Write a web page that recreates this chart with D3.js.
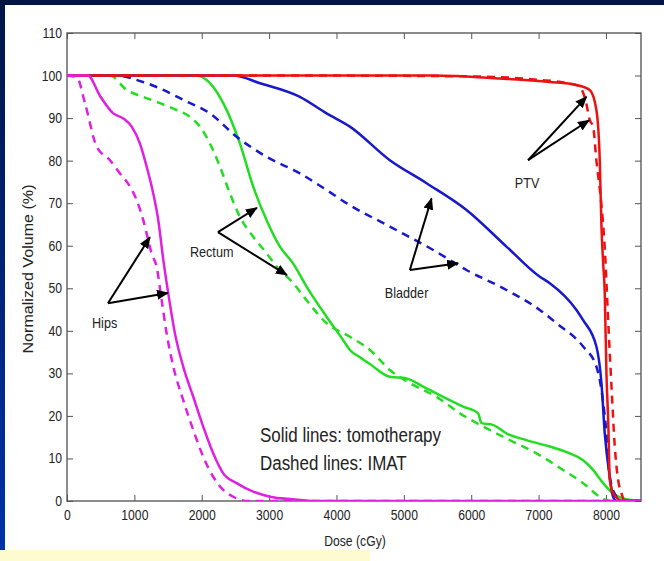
<html>
<head>
<script src="https://d3js.org/d3.v7.min.js"></script>
<style>
  body { margin: 0; background: #001540; }
  text { font-family: "Liberation Sans", Arial, sans-serif; fill: #222; }
</style>
</head>
<body>
<script>
// dose (cGy) and normalized volume (%)
var hipsSolidDose = [0, 310, 490, 687, 835, 960, 1083, 1182, 1280, 1355, 1430, 1503, 1602, 1725, 1874, 2022, 2170, 2319, 2518, 2764, 3012, 3350, 3700, 8520]
var hipsSolidVol  = [100, 100, 95.2, 91.1, 89.9, 88, 84, 78.6, 72.3, 66, 56.6, 48.8, 39.4, 31.6, 24.5, 17.5, 11.2, 6.5, 4.2, 2.2, 1.0, 0.4, 0, 0]
var hipsDashDose  = [0, 150, 267, 440, 638, 786, 935, 1034, 1132, 1206, 1256, 1331, 1405, 1479, 1578, 1725, 1874, 2022, 2170, 2319, 2467, 2700, 8520]
var hipsDashVol   = [100, 99.5, 93.5, 83.3, 80.1, 77, 73.9, 70.7, 66, 61.3, 58.2, 55, 47.2, 39.4, 31.6, 23.7, 16.7, 10.4, 5.7, 2.6, 1.0, 0, 0]

var rectumSolidDose = [0, 1924, 2122, 2319, 2567, 2764, 2963, 3160, 3358, 3556, 3853, 4100, 4199, 4347, 4496, 4792, 5040, 5286, 5583, 5880, 6103, 6152, 6320, 6523, 6820, 7166, 7463, 7661, 7809, 7958, 8105, 8254, 8520]
var rectumSolidVol  = [100, 100, 98.2, 93.5, 84, 73.9, 66, 59.8, 55.8, 50.4, 43.3, 37.8, 35.5, 33.8, 32.2, 29.2, 28.8, 26.9, 24.5, 22.2, 20.6, 18.3, 17.9, 15.9, 14.3, 12.8, 11.2, 9.6, 7.3, 4.2, 1.8, 0.6, 0]
var rectumDashDose  = [0, 638, 886, 1132, 1380, 1627, 1825, 1973, 2122, 2270, 2418, 2567, 2764, 2963, 3111, 3358, 3556, 3853, 4199, 4496, 4792, 5089, 5484, 5831, 6177, 6573, 6969, 7364, 7661, 7908, 8050, 8520]
var rectumDashVol   = [100, 100, 96.6, 95, 93.5, 91.9, 90.3, 88, 84, 78.6, 72.3, 66.8, 62.1, 58.2, 55.1, 51.2, 47.2, 41.8, 38.6, 35.5, 30.8, 27.7, 24.5, 20.6, 17.5, 14.3, 11.2, 7.3, 4.2, 1.0, 0, 0]

var bladderSolidDose = [0, 2470, 2864, 3457, 3853, 4199, 4792, 5337, 5930, 6523, 7018, 7166, 7562, 7661, 7858, 7933, 7982, 8056, 8105, 8160, 8520]
var bladderSolidVol  = [100, 100, 98.2, 95, 91.1, 88, 80.1, 74.7, 68.4, 59.8, 52.7, 51.2, 44.9, 42.5, 36.3, 27.7, 15.9, 5.7, 1.0, 0, 0]
var bladderDashDose  = [0, 700, 1182, 1776, 2122, 2518, 2963, 3457, 3853, 4149, 4792, 5436, 5930, 6523, 7018, 7265, 7661, 7858, 7933, 8007, 8056, 8155, 8220, 8520]
var bladderDashVol   = [100, 100, 98.2, 93.9, 91.1, 85.6, 80.9, 77, 73.1, 70, 64.5, 59, 54.3, 49.6, 44.9, 41.8, 36.3, 31.6, 26.1, 15.9, 5.7, 1.0, 0, 0]

var ptvSolidDose = [0, 3500, 5436, 6424, 7166, 7562, 7760, 7858, 7908, 7933, 7958, 7982, 8007, 8035, 8056, 8100, 8180, 8230, 8520]
var ptvSolidVol  = [100, 100, 100, 99.3, 98.5, 97.8, 96.6, 91.9, 80.1, 64.5, 56, 48.8, 30, 18, 5, 2, 0.5, 0, 0]
var ptvDashDose  = [0, 3500, 6000, 7000, 7400, 7600, 7700, 7760, 7809, 7858, 7930, 7980, 8040, 8085, 8130, 8180, 8230, 8280, 8520]
var ptvDashVol   = [100, 100, 99.8, 99, 98.3, 97.5, 94, 89.5, 88, 80, 70, 60, 40, 26, 13, 5, 1.8, 0, 0]

var xTicks = [0, 1000, 2000, 3000, 4000, 5000, 6000, 7000, 8000]
var yTicks = [0, 10, 20, 30, 40, 50, 60, 70, 80, 90, 100, 110]

// annotation: label [dose, vol], arrow origin, two tips
var notes = [
  {label: "Hips",    at: [371, 40.7],  from: [608, 46.5],  to: [[1231, 62], [1499, 48.9]]},
  {label: "Rectum",  at: [1825, 57.3], from: [2240, 63.2], to: [[2819, 68.9], [3264, 53.1]]},
  {label: "Bladder", at: [4718, 47.7], from: [5089, 54.3], to: [[5411, 71.1], [5806, 55.9]]},
  {label: "PTV",     at: [6647, 73.6], from: [6844, 80.1], to: [[7711, 95], [7749, 89.5]]}
]

var W = 664, H = 561
var pLeft = 67, pTop = 33, pRight = 641, pBottom = 501
var squeeze = 0.87  // slide image was stretched vertically

var svg = d3.select("body").append("svg")
	.attr("width", W)
	.attr("height", H)
	.style("display", "block")

var defs = svg.append("defs")
var grad = defs.append("linearGradient").attr("id", "side").attr("x1", 0).attr("y1", 0).attr("x2", 0).attr("y2", 1)
grad.append("stop").attr("offset", "0%").attr("stop-color", "#001548")
grad.append("stop").attr("offset", "100%").attr("stop-color", "#0032a8")

defs.append("marker").attr("id", "head")
	.attr("viewBox", "0 0 12 10").attr("refX", 11).attr("refY", 5)
	.attr("markerWidth", 12).attr("markerHeight", 10)
	.attr("markerUnits", "userSpaceOnUse").attr("orient", "auto")
	.append("path").attr("d", "M0,0 L12,5 L0,10 Z").attr("fill", "#000")

defs.append("clipPath").attr("id", "plot")
	.append("rect").attr("x", pLeft).attr("y", pTop - 2).attr("width", pRight - pLeft + 2).attr("height", pBottom - pTop + 2)

svg.append("rect").attr("width", W).attr("height", H).attr("fill", "#001540")
svg.append("rect").attr("x", 0).attr("y", 5).attr("width", 5).attr("height", 545).attr("fill", "url(#side)")
svg.append("rect").attr("x", 5).attr("y", 5).attr("width", W - 5).attr("height", H - 5).attr("fill", "#fff")
svg.append("rect").attr("x", 0).attr("y", 550).attr("width", 370).attr("height", 11).attr("fill", "#fffbd0")

var x = d3.scaleLinear().domain([0, 8520]).range([pLeft, pRight])
var y = d3.scaleLinear().domain([0, 110]).range([pBottom, pTop])

function shrink(sel, k) {
	sel.each(function() {
		var len = this.getComputedTextLength()
		d3.select(this).attr("textLength", len * k).attr("lengthAdjust", "spacingAndGlyphs")
	})
}

// box and ticks
svg.append("rect").attr("x", pLeft).attr("y", pTop).attr("width", pRight - pLeft).attr("height", pBottom - pTop)
	.attr("fill", "none").attr("stroke", "#666").attr("stroke-width", 1.5)

var gx = svg.append("g").attr("transform", "translate(0," + pBottom + ")")
	.call(d3.axisBottom(x).tickValues(xTicks).tickSize(-6).tickPadding(9).tickFormat(d3.format("d")))
var gxt = svg.append("g").attr("transform", "translate(0," + pTop + ")")
	.call(d3.axisTop(x).tickValues(xTicks).tickSize(-6).tickFormat(""))
var gy = svg.append("g").attr("transform", "translate(" + pLeft + ",0)")
	.call(d3.axisLeft(y).tickValues(yTicks).tickSize(-6).tickPadding(5))
var gyr = svg.append("g").attr("transform", "translate(" + pRight + ",0)")
	.call(d3.axisRight(y).tickValues(yTicks).tickSize(-6).tickFormat(""))

svg.selectAll(".domain").remove()
svg.selectAll(".tick line").attr("stroke", "#555")
svg.selectAll(".tick text").style("font-size", "14px").attr("fill", "#222")
shrink(gx.selectAll(".tick text"), squeeze)
shrink(gy.selectAll(".tick text"), squeeze)

var xl = svg.append("text").attr("x", 355).attr("y", 546).attr("text-anchor", "middle")
	.style("font-size", "14px").text("Dose (cGy)")
shrink(xl, squeeze)

var yl = svg.append("text").attr("transform", "translate(33,269) rotate(-90)").attr("text-anchor", "middle")
	.style("font-size", "14px").text("Normalized Volume (%)")
shrink(yl, 1 / squeeze)

// curves
var series = [
	{dose: rectumSolidDose, vol: rectumSolidVol, color: "#22dd22", dash: null},
	{dose: rectumDashDose, vol: rectumDashVol, color: "#22dd22", dash: "8,6"},
	{dose: bladderSolidDose, vol: bladderSolidVol, color: "#1818cc", dash: null},
	{dose: bladderDashDose, vol: bladderDashVol, color: "#1818cc", dash: "8,6"},
	{dose: ptvSolidDose, vol: ptvSolidVol, color: "#ee1111", dash: null},
	{dose: ptvDashDose, vol: ptvDashVol, color: "#ee1111", dash: "8,6"},
	{dose: hipsDashDose, vol: hipsDashVol, color: "#e020e0", dash: "8,6"},
	{dose: hipsSolidDose, vol: hipsSolidVol, color: "#e020e0", dash: null}
]

var line = d3.line()
	.x(function(d) { return x(d[0]) })
	.y(function(d) { return y(d[1]) })
	.curve(d3.curveMonotoneX)

svg.append("g").attr("clip-path", "url(#plot)")
	.selectAll("path")
	.data(series)
	.enter().append("path")
		.attr("d", function(s) { return line(d3.zip(s.dose, s.vol)) })
		.attr("fill", "none")
		.attr("stroke", function(s) { return s.color })
		.attr("stroke-width", 2.5)
		.attr("stroke-dasharray", function(s) { return s.dash })

// annotations
var ann = svg.append("g")
notes.forEach(function(n) {
	n.to.forEach(function(t) {
		ann.append("line")
			.attr("x1", x(n.from[0])).attr("y1", y(n.from[1]))
			.attr("x2", x(t[0])).attr("y2", y(t[1]))
			.attr("stroke", "#000").attr("stroke-width", 2)
			.attr("marker-end", "url(#head)")
	})
	var t = ann.append("text").attr("x", x(n.at[0])).attr("y", y(n.at[1]))
		.style("font-size", "14.5px").text(n.label)
	shrink(t, squeeze)
})

var legend = ["Solid lines: tomotherapy", "Dashed lines: IMAT"]
var legendY = [13.9, 7.3]
legend.forEach(function(s, i) {
	var t = svg.append("text").attr("x", x(2864)).attr("y", y(legendY[i]))
		.style("font-size", "19.5px").attr("fill", "#111").text(s)
	shrink(t, squeeze)
})
</script>
</body>
</html>
